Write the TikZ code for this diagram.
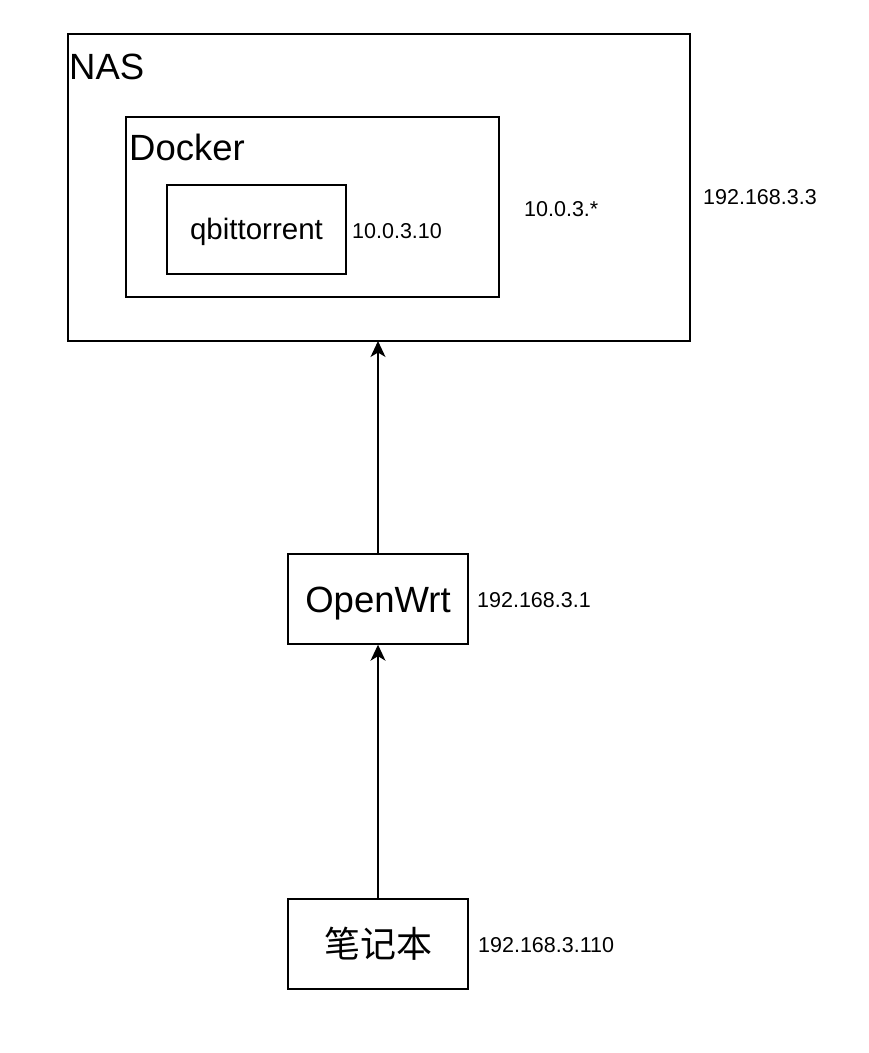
\documentclass[tikz,border=0pt]{standalone}
\usepackage{fontspec}
\setmainfont{Liberation Sans}
\newfontfamily\cjk{Noto Sans CJK SC}
\usetikzlibrary{arrows.meta}
\begin{document}
\begin{tikzpicture}[x=1pt,y=-1pt,
  box/.style={draw=black,line width=1.4pt},
  big/.style={font=\fontsize{36.5}{40}\selectfont,inner sep=0pt},
  mid/.style={font=\fontsize{29.5}{33}\selectfont,inner sep=0pt},
  small/.style={font=\fontsize{21.5}{25}\selectfont,inner sep=0pt,anchor=base west},
  arr/.style={line width=1.3pt,-{Stealth[length=16pt,width=15pt,inset=4.5pt]}}]
\useasboundingbox (0,0) rectangle (869,1053);
% boxes
\draw[box] (68,34) rectangle (690,341);
\draw[box] (126,117) rectangle (499,297);
\draw[box] (167,185) rectangle (346,274);
\node[box,minimum width=180pt,minimum height=90pt,inner sep=0pt] (openwrt) at (378,599) {};
\node[box,minimum width=180pt,minimum height=90pt,inner sep=0pt] (laptop) at (378,944) {};
\coordinate (nasbottom) at (378,341);
% labels
\node[big,anchor=base west] (nas) at (69,79) {NAS};
\node[big,anchor=base west] (docker) at (129,160) {Docker};
\node[mid,anchor=base] (qbt) at (256.5,239) {qbittorrent};
\node[big,anchor=base] (owtxt) at (378,612) {OpenWrt};
\node[big,font=\cjk\fontsize{36}{40}\selectfont] (lptxt) at (laptop) {笔记本};
\node[small] (ipqbt) at (352,238) {10.0.3.10};
\node[small] (ipdocker) at (524,216) {10.0.3.*};
\node[small] (ipnas) at (703,204) {192.168.3.3};
\node[small] (ipow) at (477,607) {192.168.3.1};
\node[small] (iplp) at (478,952) {192.168.3.110};
% arrows
\draw[arr] (laptop.north) -- (openwrt.south);
\draw[arr] (openwrt.north) -- (nasbottom);
\end{tikzpicture}
\end{document}
